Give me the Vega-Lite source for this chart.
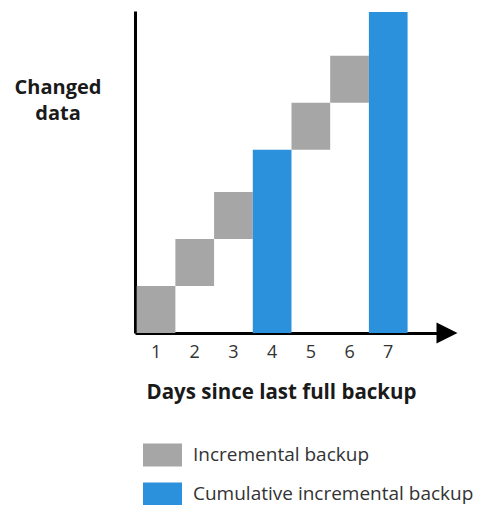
{
  "$schema": "https://vega.github.io/schema/vega-lite/v6.json",
  "autosize": "none",
  "padding": {"left": 135, "top": 11, "right": 34, "bottom": 172},
  "width": 312,
  "height": 322,
  "config": {
    "view": {"stroke": null},
    "font": "Open Sans"
  },
  "data": {
    "values": [
      {"day": "1", "start": 0, "end": 1, "type": "Incremental backup"},
      {"day": "2", "start": 1, "end": 2, "type": "Incremental backup"},
      {"day": "3", "start": 2, "end": 3, "type": "Incremental backup"},
      {"day": "4", "start": 0, "end": 3.9, "type": "Cumulative incremental backup"},
      {"day": "5", "start": 3.9, "end": 4.9, "type": "Incremental backup"},
      {"day": "6", "start": 4.9, "end": 5.9, "type": "Incremental backup"},
      {"day": "7", "start": 0, "end": 6.83, "type": "Cumulative incremental backup"}
    ]
  },
  "layer": [
    {
      "mark": {"type": "bar"},
      "encoding": {
        "x": {
          "field": "day",
          "type": "ordinal",
          "sort": null,
          "scale": {"paddingInner": 0, "paddingOuter": 0.531, "align": 0.041, "round": false},
          "axis": {
            "title": "Days since last full backup",
            "labelAngle": 0,
            "domain": true,
            "domainColor": "#000000",
            "domainWidth": 3,
            "ticks": false,
            "labelFontSize": 18,
            "labelColor": "#333333",
            "labelPadding": 10,
            "titleFontSize": 20.5,
            "titleFontWeight": "bold",
            "titleColor": "#1a1a1a",
            "titleX": 146,
            "titleY": 65.7,
            "titleAlign": "center",
            "titleBaseline": "alphabetic"
          }
        },
        "y": {
          "field": "start",
          "type": "quantitative",
          "scale": {"domain": [0, 6.85], "nice": false, "zero": true},
          "axis": {
            "title": ["Changed", "data"],
            "grid": false,
            "ticks": false,
            "labels": false,
            "domain": true,
            "domainColor": "#000000",
            "domainWidth": 3,
            "titleAngle": 0,
            "titleFontSize": 20,
            "titleFontWeight": "bold",
            "titleColor": "#1a1a1a",
            "titleX": -77.5,
            "titleY": 82.3,
            "titleAlign": "center",
            "titleBaseline": "alphabetic",
            "titleLineHeight": 26
          }
        },
        "y2": {"field": "end"},
        "color": {
          "field": "type",
          "type": "nominal",
          "scale": {
            "domain": ["Incremental backup", "Cumulative incremental backup"],
            "range": ["#A6A6A6", "#2B91DC"]
          },
          "legend": {
            "title": null,
            "orient": "none",
            "legendX": 8,
            "legendY": 424.5,
            "padding": 0,
            "symbolType": "M-1,-0.59H1V0.59H-1Z",
            "symbolSize": 1521,
            "symbolStrokeWidth": 0,
            "symbolOpacity": 1,
            "labelFontSize": 19,
            "labelColor": "#333333",
            "labelOffset": 11,
            "labelLimit": 0,
            "rowPadding": 7
          }
        }
      }
    },
    {
      "data": {"values": [{"arrow": "x"}]},
      "mark": {"type": "point", "shape": "M-1,-1L1,0L-1,1Z", "filled": true, "color": "#000000", "opacity": 1, "size": 441, "strokeWidth": 0},
      "encoding": {
        "x": {"value": "width"},
        "y": {"value": "height"}
      }
    }
  ]
}
